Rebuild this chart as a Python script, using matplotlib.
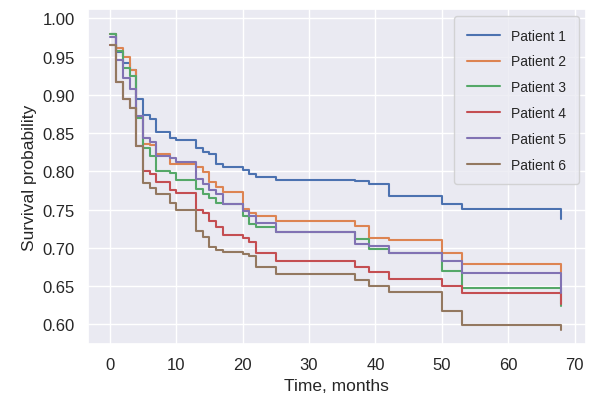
import numpy as np
import matplotlib
matplotlib.use("Agg")
import matplotlib.pyplot as plt
import seaborn as sns

sns.set_theme(style="darkgrid")
plt.rcParams['font.family'] = ['Liberation Sans', 'DejaVu Sans']

times = [0, 1, 2, 3, 4, 5, 6, 7, 9, 10, 13, 14, 15, 16, 17, 20, 21, 22, 25, 37, 39, 42, 50, 53, 68]

p1 = [0.980, 0.956, 0.941, 0.933, 0.895, 0.874, 0.868, 0.852, 0.844, 0.841, 0.831, 0.825, 0.822, 0.810, 0.805,
      0.802, 0.797, 0.792, 0.789, 0.787, 0.783, 0.768, 0.757, 0.751, 0.737]
p2 = [0.980, 0.961, 0.950, 0.932, 0.871, 0.836, 0.834, 0.823, 0.810, 0.809, 0.805, 0.799, 0.786, 0.779, 0.773,
      0.751, 0.745, 0.742, 0.735, 0.728, 0.713, 0.710, 0.693, 0.679, 0.668]
p3 = [0.980, 0.957, 0.935, 0.925, 0.870, 0.830, 0.820, 0.800, 0.798, 0.789, 0.777, 0.770, 0.765, 0.759, 0.757,
      0.742, 0.731, 0.727, 0.720, 0.712, 0.699, 0.693, 0.669, 0.647, 0.624]
p4 = [0.965, 0.917, 0.895, 0.883, 0.833, 0.800, 0.797, 0.786, 0.776, 0.771, 0.750, 0.745, 0.735, 0.727, 0.717,
      0.713, 0.707, 0.693, 0.683, 0.675, 0.668, 0.659, 0.650, 0.641, 0.626]
p5 = [0.975, 0.945, 0.922, 0.907, 0.872, 0.843, 0.838, 0.820, 0.817, 0.812, 0.790, 0.783, 0.775, 0.770, 0.757,
      0.748, 0.741, 0.733, 0.720, 0.705, 0.702, 0.693, 0.683, 0.667, 0.641]
p6 = [0.965, 0.917, 0.895, 0.883, 0.833, 0.785, 0.778, 0.770, 0.758, 0.749, 0.722, 0.714, 0.701, 0.697, 0.694,
      0.692, 0.689, 0.675, 0.666, 0.658, 0.650, 0.642, 0.617, 0.599, 0.593]

series = [p1, p2, p3, p4, p5, p6]
names = ["Patient 1", "Patient 2", "Patient 3", "Patient 4", "Patient 5", "Patient 6"]

fig, ax = plt.subplots(figsize=(5.9, 4.06), dpi=100)
fig.subplots_adjust(left=0.149, right=0.993, bottom=0.15, top=0.975)
for vals, name in zip(series, names):
    ax.step(times, vals, where="post", label=name, lw=1.5)

ax.set_xlim(-3.3, 71.7)
ax.set_ylim(0.574, 1.012)
ax.set_xticks(np.arange(0, 71, 10))
ax.set_yticks(np.arange(0.60, 1.001, 0.05))
ax.set_xlabel("Time, months", fontsize=12.5)
ax.set_ylabel("Survival probability", fontsize=12.5)
ax.tick_params(labelsize=12)
ax.legend(loc="upper right", fontsize=10, borderpad=0.9, labelspacing=0.85, handlelength=2.4)

plt.savefig("out.png")
